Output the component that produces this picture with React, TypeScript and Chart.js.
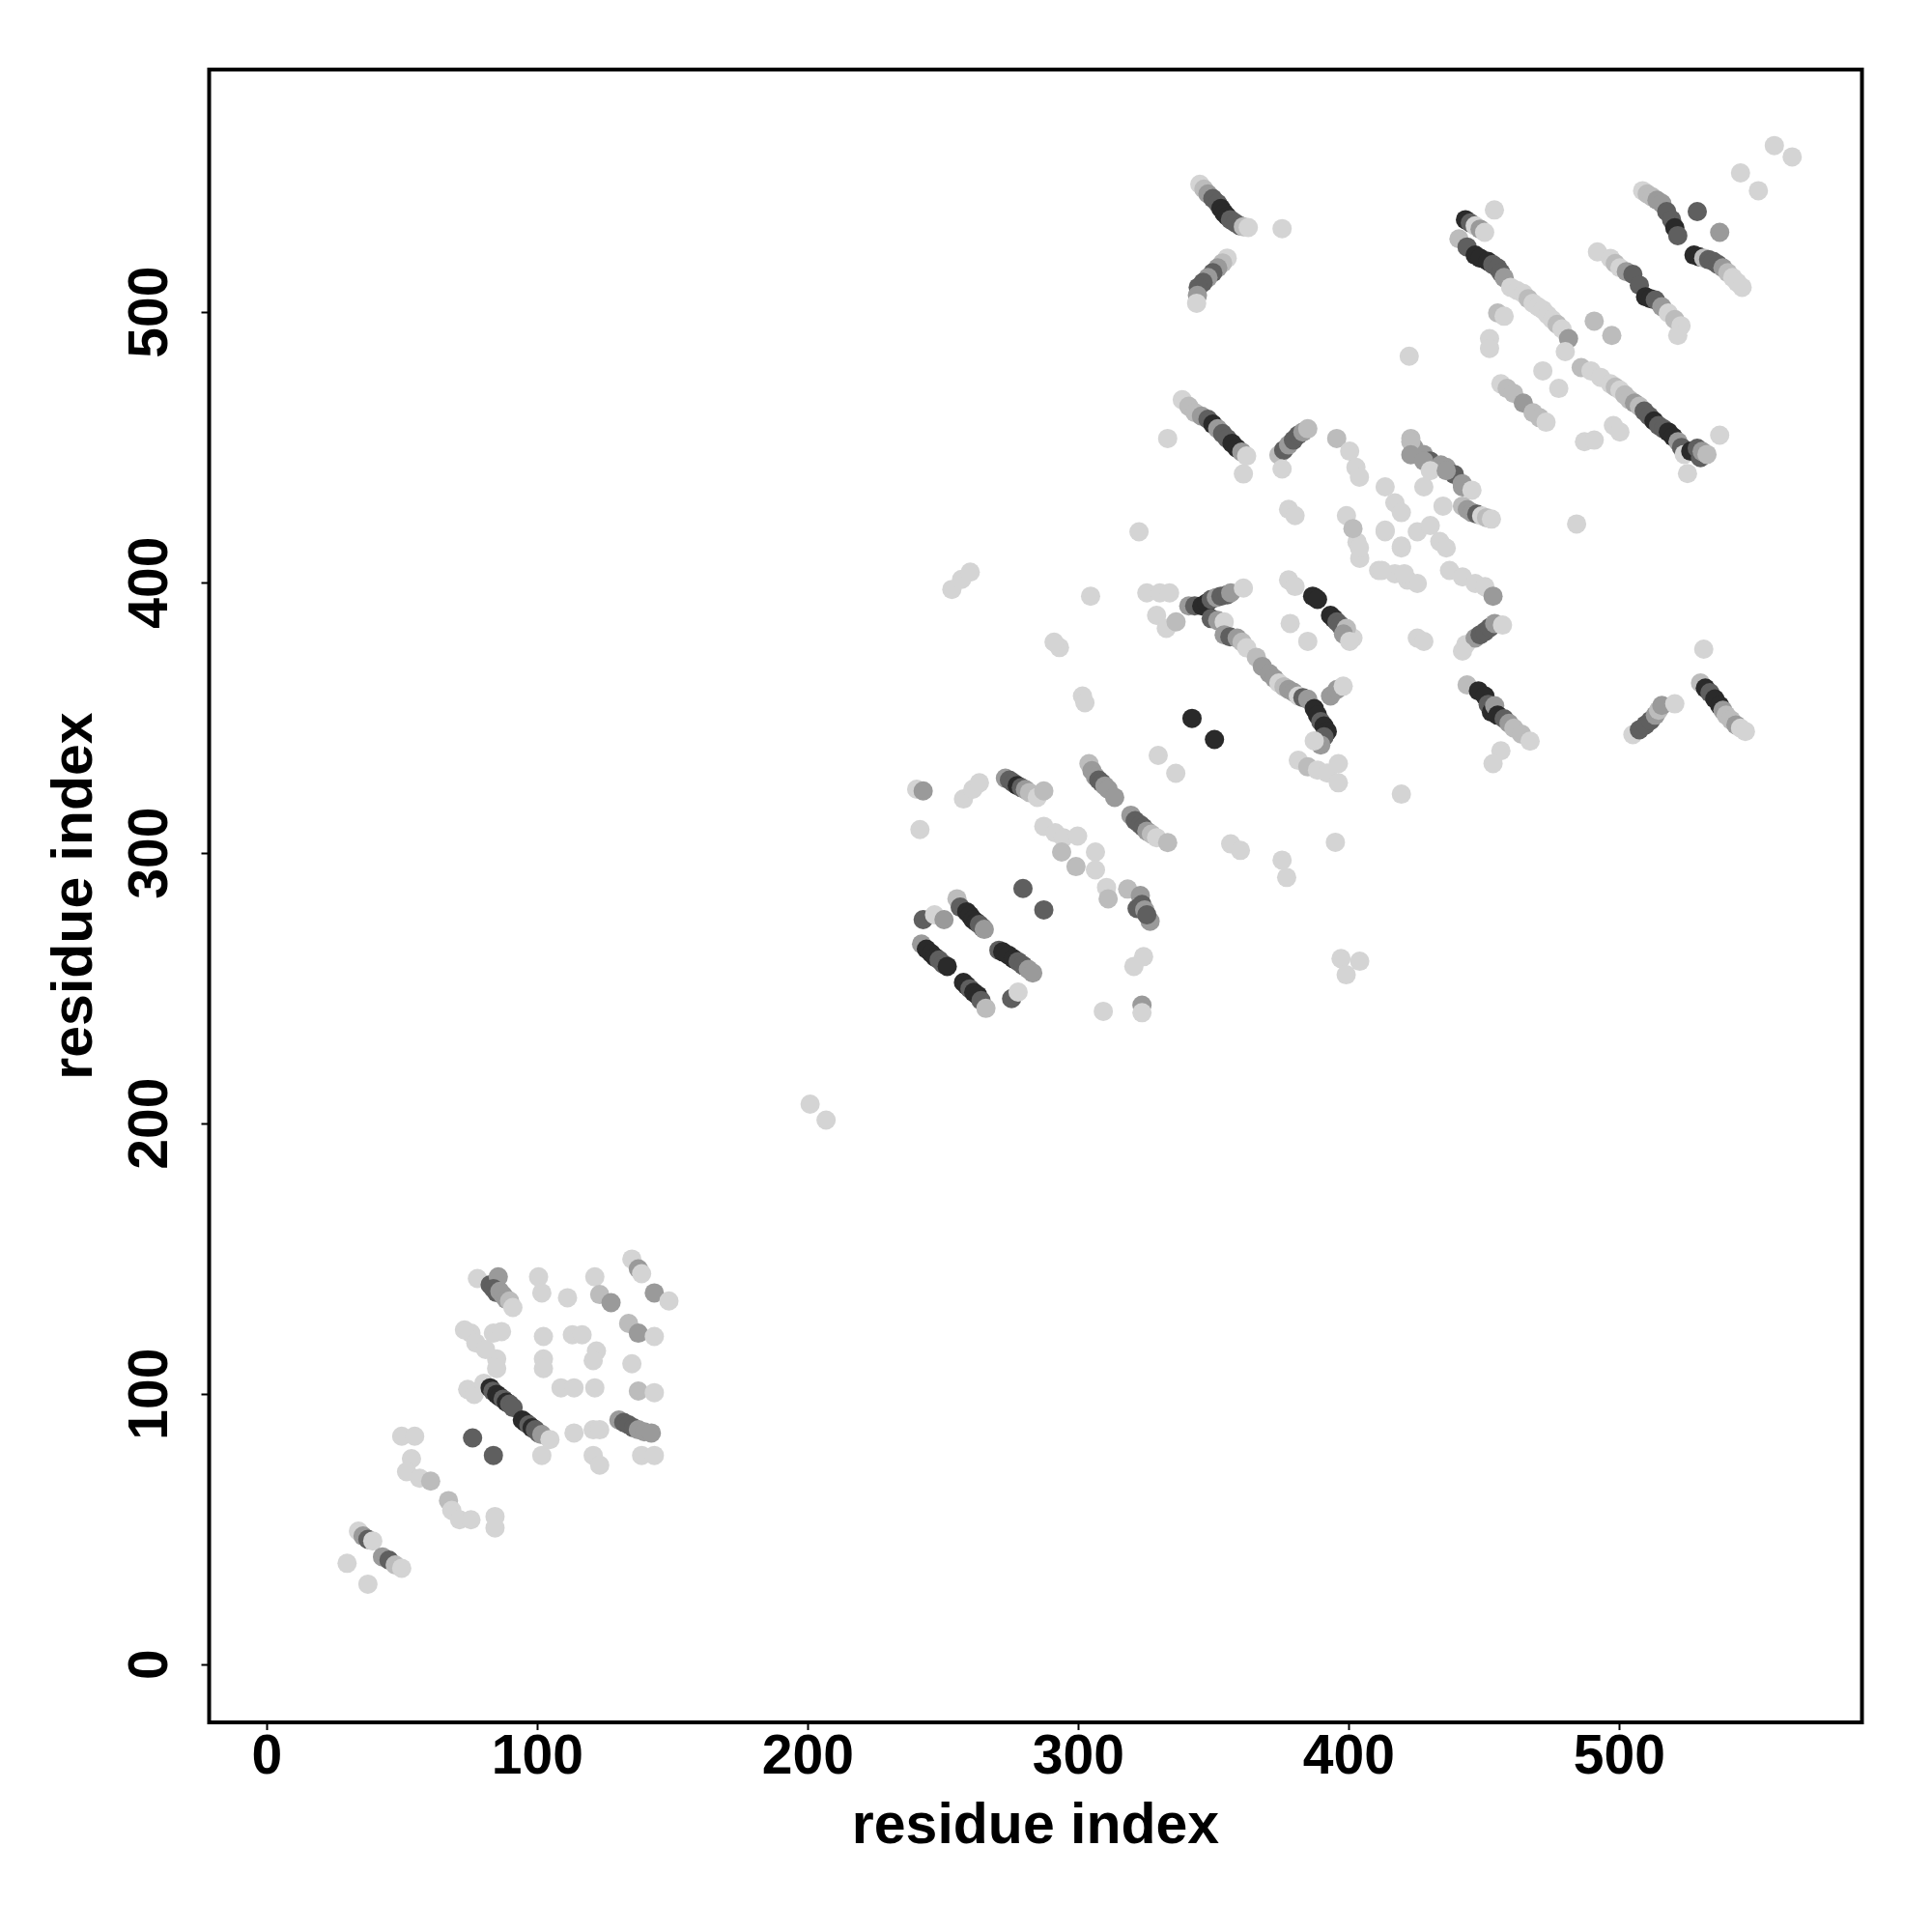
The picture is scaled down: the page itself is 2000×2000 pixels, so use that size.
import React, { useEffect, useRef } from "react";
import { Chart, registerables } from "chart.js";

Chart.register(...registerables);

const X_TICKS = [0, 100, 200, 300, 400, 500];
const Y_TICKS = [0, 100, 200, 300, 400, 500];
const AXIS_MIN = -21.4;
const AXIS_MAX = 589.7;
const X_TITLE = "residue index";
const Y_TITLE = "residue index";
// grey levels (contact strength): 0 = weakest/lightest ... 4 = strongest/darkest
const GRAYS = ["#d4d4d4", "#bcbcbc", "#9a9a9a", "#5f5f5f", "#2a2a2a"];

type P = [number, number, number];

const clusterLow: P[] = [
  [29.6, 37.4, 0], [37.3, 29.7, 0],
  [33.8, 49.3, 0], [35.5, 47.5, 2], [37.3, 46.3, 3], [39.1, 45.7, 0],
  [42.7, 39.8, 2], [45.1, 38.6, 3], [47.4, 36.8, 1], [49.8, 35.6, 0],
  [49.8, 84.4, 0], [54.6, 84.4, 0],
  [53.4, 76.1, 0], [51.6, 71.3, 0], [56.4, 68.9, 0], [60.5, 67.8, 1],
  [67.1, 60.6, 1], [68.3, 57.0, 0], [71.2, 53.5, 0], [75.4, 53.5, 0],
  [84.3, 54.7, 0], [84.3, 50.5, 0],
  [76.0, 83.8, 3], [83.7, 77.3, 3],
  [74.2, 101.7, 0], [76.6, 99.9, 0], [80.2, 104.0, 0],
  [82.5, 102.3, 4], [83.5, 101.0, 3], [84.9, 99.9, 4], [86.0, 99.0, 4], [87.3, 98.1, 3], [88.5, 97.0, 4], [89.7, 96.3, 3], [91.0, 95.0, 3],
  [94.4, 90.4, 4], [95.5, 89.5, 4], [96.8, 88.6, 3], [98.0, 87.5, 4], [99.2, 86.8, 3], [100.5, 85.5, 3], [101.6, 85.0, 2],
  [104.6, 83.2, 0], [101.6, 77.3, 0],
  [83.7, 122.5, 0], [86.7, 123.1, 0], [75.4, 122.5, 0], [73.0, 123.7, 0],
  [84.9, 113.0, 0], [84.9, 109.4, 0],
  [77.2, 118.9, 0], [80.8, 116.5, 0],
  [77.8, 142.7, 0], [82.5, 140.4, 3], [85.5, 143.3, 2], [83.7, 139.0, 3], [84.9, 137.5, 3], [86.1, 138.0, 2],
  [87.3, 136.5, 2], [88.5, 135.0, 2], [89.7, 134.4, 1], [90.9, 132.0, 0],
  [100.4, 143.3, 0], [101.6, 137.4, 0],
  [111.1, 135.6, 0],
  [102.2, 121.3, 0], [102.2, 113.0, 0], [102.2, 109.4, 0],
  [112.9, 121.9, 0], [116.5, 121.9, 0],
  [121.8, 115.9, 0], [120.6, 112.4, 0],
  [108.7, 102.3, 0], [113.5, 102.3, 0], [121.2, 102.3, 0],
  [134.9, 111.2, 0],
  [137.3, 101.1, 1], [143.2, 100.5, 0],
  [121.2, 143.3, 0], [123.0, 136.8, 1], [127.2, 133.8, 2],
  [133.7, 126.1, 1], [137.3, 122.5, 2], [143.2, 121.3, 0],
  [134.9, 149.9, 0], [137.3, 146.3, 2], [138.5, 144.5, 0],
  [143.2, 137.4, 2], [148.6, 134.4, 0],
  [130.1, 90.4, 2], [131.9, 89.5, 3], [133.7, 88.6, 3], [135.5, 87.5, 3], [137.3, 86.8, 2], [139.5, 86.0, 2], [142.1, 85.6, 2],
  [138.5, 77.3, 0], [143.2, 77.3, 0],
  [113.5, 85.6, 0], [120.6, 86.8, 0], [123.0, 86.8, 0],
  [120.6, 77.3, 0], [123.0, 73.7, 0],
];

const clusterMid: P[] = [
  [200.8, 207.2, 0], [206.7, 201.3, 0],
  [240.2, 323.6, 0], [242.6, 323.0, 2],
  [241.4, 308.7, 0],
  [257.5, 320.0, 0], [261.0, 323.6, 0], [263.4, 326.0, 0],
  [273.0, 327.7, 2], [274.5, 327.0, 3], [275.9, 326.0, 3], [277.4, 325.0, 4], [278.9, 324.2, 3], [280.4, 323.5, 2],
  [281.9, 322.4, 1], [284.8, 320.6, 0], [287.2, 323.0, 1],
  [287.2, 309.9, 0], [291.4, 307.5, 0], [294.4, 305.7, 0], [299.7, 306.3, 0],
  [293.8, 300.4, 1], [299.1, 295.0, 1], [306.3, 300.4, 0], [306.3, 293.8, 0], [310.4, 287.3, 0],
  [303.9, 333.1, 1], [305.0, 330.5, 2], [306.3, 328.3, 2], [307.5, 327.0, 3], [308.6, 326.0, 3], [309.8, 324.8, 2],
  [311.0, 323.6, 2], [313.4, 320.6, 2],
  [319.4, 314.0, 2], [321.0, 312.0, 3], [322.9, 310.5, 3], [324.0, 309.5, 3], [325.3, 308.1, 2], [327.0, 307.0, 1],
  [328.9, 305.7, 0], [333.0, 303.9, 1],
  [329.5, 336.1, 0], [336.0, 329.5, 0],
  [279.5, 286.9, 3], [287.2, 279.0, 3],
  [242.6, 275.4, 3], [246.8, 277.2, 0], [250.3, 275.4, 2],
  [255.1, 283.1, 1], [256.3, 280.0, 3], [258.7, 278.3, 4], [259.9, 277.0, 4], [261.0, 275.4, 4], [262.2, 274.5, 4],
  [263.4, 273.6, 3], [264.5, 272.5, 3], [265.2, 271.8, 2],
  [242.0, 266.4, 2], [243.8, 264.5, 4], [245.6, 262.9, 4], [247.0, 261.5, 4], [248.5, 260.5, 3], [250.0, 259.0, 3], [251.5, 258.1, 4],
  [257.5, 252.2, 4], [258.7, 251.0, 4], [259.9, 249.8, 3], [261.3, 248.5, 4], [262.8, 247.4, 4], [264.0, 245.5, 3], [265.8, 242.6, 1],
  [270.6, 264.1, 3], [272.0, 263.5, 4], [274.1, 262.3, 4], [275.9, 261.0, 4], [277.7, 259.9, 3], [279.5, 258.5, 3],
  [281.5, 257.0, 2], [283.1, 255.7, 2],
  [275.3, 246.2, 3], [277.7, 248.6, 0],
  [311.0, 283.1, 1], [318.2, 286.7, 1], [322.9, 284.3, 2], [326.5, 274.8, 2],
  [321.7, 279.5, 3], [323.5, 281.0, 3], [324.5, 279.0, 2], [325.3, 277.2, 3],
  [324.1, 261.7, 0], [320.5, 258.1, 0],
  [309.2, 241.5, 0],
  [323.5, 243.8, 2], [323.5, 241.0, 0],
];

const clusterCenter: P[] = [
  [253.2, 397.5, 0], [256.8, 401.2, 0], [260.0, 403.9, 0],
  [322.4, 418.8, 0], [304.5, 395.0, 0], [293.0, 376.0, 0], [291.0, 378.0, 0],
  [301.5, 358.1, 0], [302.4, 355.6, 0],
  [342.0, 349.8, 4], [350.3, 342.0, 4],
  [356.3, 303.4, 0], [359.9, 301.0, 0],
  [375.3, 297.4, 0], [377.0, 291.0, 0],
  [395.0, 304.0, 0],
  [419.4, 321.8, 0],
  [397.1, 261.0, 0], [399.0, 255.0, 0], [404.0, 260.0, 0],
  [377.7, 427.1, 0], [380.1, 424.8, 0],
  [399.1, 424.8, 0], [401.5, 420.0, 1], [403.9, 412.9, 0],
  [413.4, 419.4, 0], [419.4, 413.5, 0],
  [412.2, 404.5, 0], [420.5, 403.3, 0],
  [361.0, 440.2, 0], [375.3, 442.0, 0],
  [325.3, 396.2, 0], [330.1, 396.2, 0], [333.7, 396.2, 0],
  [328.9, 387.9, 0], [332.5, 383.1, 0], [336.1, 385.5, 1],
  [340.8, 391.4, 2], [343.0, 391.4, 3], [345.6, 391.4, 4], [347.5, 392.5, 4], [349.1, 393.8, 3], [351.0, 394.5, 2],
  [352.7, 395.0, 3], [355.0, 395.5, 3], [356.3, 396.2, 2], [361.0, 398.0, 0],
  [349.1, 386.7, 3], [351.5, 386.0, 2], [353.9, 385.5, 0], [353.9, 380.7, 2], [356.0, 380.0, 3], [358.7, 379.5, 2],
  [360.5, 378.0, 1], [362.2, 375.9, 0], [365.8, 372.4, 1],
  [368.0, 369.0, 2], [370.6, 366.4, 2], [372.5, 364.5, 2], [374.1, 362.9, 0], [376.0, 361.5, 1], [377.7, 360.5, 2],
  [379.5, 359.5, 2], [381.3, 358.1, 0], [383.0, 357.5, 3], [384.8, 356.9, 2],
  [387.2, 353.4, 4], [388.4, 351.0, 4], [389.6, 348.6, 3], [390.8, 347.0, 4], [392.0, 345.0, 4], [390.8, 343.0, 3], [389.6, 340.0, 2],
  [393.2, 358.1, 2], [395.6, 360.5, 2], [397.9, 361.7, 0],
  [381.3, 334.3, 0], [384.8, 331.9, 1], [388.4, 330.7, 0], [392.0, 329.6, 0], [396.1, 333.1, 0], [396.1, 326.0, 0],
  [387.2, 341.5, 0],
  [377.7, 401.0, 0], [380.1, 398.6, 0], [386.6, 395.0, 4], [387.5, 394.5, 4], [388.4, 393.8, 4],
  [393.2, 387.9, 4], [394.4, 386.7, 4], [395.6, 385.5, 3], [396.8, 384.3, 3], [399.1, 383.1, 1], [398.0, 381.0, 2], [400.3, 378.3, 0],
  [378.3, 384.9, 0], [384.8, 378.3, 0],
];

const clusterRightMid: P[] = [
  [403.9, 439.0, 0], [403.0, 415.0, 0], [404.0, 409.0, 0],
  [413.4, 435.4, 0], [417.0, 429.5, 0], [419.4, 425.9, 0],
  [413.4, 418.8, 0], [419.4, 412.8, 0],
  [425.3, 418.8, 0], [430.1, 421.1, 0], [433.6, 415.2, 0], [436.0, 412.8, 0],
  [422.9, 447.3, 2], [427.7, 445.0, 2], [430.1, 441.4, 0], [436.0, 441.4, 2],
  [427.7, 435.4, 0],
  [434.8, 428.3, 0], [442.0, 435.4, 2], [445.5, 434.2, 0],
  [442.0, 428.3, 1], [443.8, 427.0, 2], [445.5, 425.9, 2], [447.3, 425.3, 3], [449.1, 424.7, 0], [450.9, 424.0, 1], [452.7, 423.5, 0],
  [484.2, 421.7, 0],
  [411.0, 404.5, 0], [417.0, 403.3, 0], [421.7, 400.9, 0], [425.3, 399.7, 0],
  [437.2, 404.5, 0], [442.0, 402.1, 0], [446.7, 399.7, 0], [450.3, 398.5, 0], [453.3, 395.0, 2],
  [401.5, 379.5, 0],
  [425.3, 379.5, 0], [427.7, 378.3, 0],
  [443.2, 377.1, 0], [446.7, 379.5, 2], [448.5, 380.7, 3], [450.3, 381.9, 3], [452.1, 383.4, 3], [453.9, 384.9, 2], [456.8, 384.3, 0],
  [442.0, 374.7, 0],
  [443.7, 362.2, 1], [447.9, 360.0, 4], [450.3, 358.1, 4], [451.5, 355.0, 3], [452.7, 352.1, 4], [453.9, 354.5, 2],
  [455.0, 351.0, 4], [457.4, 349.7, 3], [459.2, 348.0, 2], [461.0, 346.2, 1], [463.8, 344.0, 1], [467.0, 341.4, 0],
  [456.2, 337.8, 0], [453.3, 333.1, 0],
  [531.2, 375.4, 0],
  [505.0, 343.8, 0], [507.4, 345.6, 3], [509.7, 347.4, 3], [511.5, 349.0, 3], [513.3, 351.0, 2], [514.5, 352.8, 1],
  [515.7, 354.6, 2], [520.5, 355.2, 0],
  [530.0, 362.9, 1], [531.8, 361.0, 4], [533.5, 359.3, 3], [535.3, 357.0, 4], [537.1, 354.6, 4], [538.3, 352.8, 2],
  [539.5, 351.0, 1], [541.3, 349.2, 1], [543.1, 347.4, 2], [544.8, 346.2, 0], [546.6, 345.0, 0],
];

const clusterUpperLeft: P[] = [
  [344.9, 547.3, 0], [346.4, 545.5, 1], [347.9, 543.7, 2], [349.7, 542.0, 3], [351.5, 540.2, 3], [352.7, 538.4, 4],
  [353.9, 536.6, 4], [355.0, 535.4, 4], [356.2, 534.2, 3], [358.0, 533.0, 3], [359.8, 531.9, 3], [361.0, 531.6, 1], [362.8, 531.3, 0],
  [375.3, 530.9, 0],
  [355.0, 520.0, 0], [353.3, 518.2, 1], [351.5, 516.4, 2], [349.7, 514.6, 3], [347.9, 512.8, 2], [346.1, 511.0, 3],
  [344.3, 509.2, 3], [344.0, 506.2, 2], [343.7, 503.3, 0],
  [422.3, 483.7, 0],
  [338.4, 467.6, 0], [340.8, 465.2, 1], [343.1, 462.8, 1], [345.5, 461.6, 2], [347.9, 460.4, 3], [349.7, 458.6, 4],
  [351.5, 456.9, 2], [353.3, 455.1, 3], [355.0, 453.3, 3], [356.8, 451.5, 4], [358.6, 449.7, 4], [360.4, 448.3, 2], [362.2, 446.8, 0],
  [333.0, 453.3, 0],
  [374.1, 447.2, 1], [375.9, 449.0, 3], [377.7, 450.9, 2], [379.5, 452.7, 3], [381.2, 454.5, 3], [383.0, 455.7, 2], [384.8, 456.9, 1],
  [395.5, 453.3, 1], [400.3, 448.6, 0], [402.6, 442.6, 0],
  [422.9, 452.1, 1],
];

const clusterUpperRight: P[] = [
  [563.9, 557.4, 0], [557.3, 561.6, 0], [544.8, 551.5, 0], [551.4, 544.9, 0],
  [508.6, 544.9, 0], [510.3, 543.7, 1], [512.1, 542.6, 1], [513.9, 541.4, 2], [515.7, 540.2, 2], [517.5, 537.2, 3],
  [519.3, 534.2, 3], [520.5, 531.2, 4], [521.6, 528.3, 3],
  [528.8, 537.2, 3], [537.1, 529.5, 2],
  [527.6, 521.1, 4], [529.4, 520.5, 4], [531.2, 520.0, 1], [533.0, 519.4, 3], [534.7, 518.8, 3], [536.5, 517.6, 3],
  [538.3, 516.4, 2], [540.1, 514.6, 1], [541.9, 512.8, 0], [543.6, 511.0, 0], [545.4, 509.2, 0],
  [491.9, 522.3, 0], [496.7, 519.9, 0], [498.5, 518.0, 1], [500.2, 516.4, 0], [502.6, 515.0, 2], [505.0, 514.0, 3],
  [507.4, 510.0, 3], [509.7, 505.7, 4], [511.5, 505.0, 4], [513.3, 504.5, 3], [515.7, 502.0, 2], [518.1, 499.7, 0],
  [520.5, 497.3, 1], [522.8, 495.0, 0], [521.6, 491.4, 0],
  [490.7, 496.7, 1], [497.2, 491.4, 1],
  [443.1, 534.2, 4], [444.9, 533.0, 3], [446.7, 531.9, 0], [448.5, 530.7, 2], [450.2, 529.5, 0], [453.8, 537.8, 0],
  [440.7, 527.1, 1], [443.7, 524.1, 3], [446.7, 521.1, 4], [448.5, 520.0, 4], [451.4, 518.8, 4], [453.2, 517.6, 3],
  [455.0, 516.4, 3], [456.2, 514.6, 3], [457.4, 512.8, 2],
  [459.8, 509.2, 0], [462.2, 508.0, 0], [464.5, 506.9, 0], [466.3, 505.0, 1], [468.1, 503.3, 0], [469.9, 502.0, 0],
  [471.7, 500.9, 0], [473.5, 499.0, 0], [475.2, 497.3, 0], [477.0, 495.5, 1], [478.8, 493.8, 0], [481.2, 490.2, 2], [480.0, 485.4, 0],
  [455.0, 499.7, 1], [457.4, 498.5, 0],
  [452.0, 490.2, 0], [452.0, 486.6, 0],
  [471.7, 478.3, 0], [477.6, 471.8, 0],
  [456.2, 473.5, 0], [458.5, 471.8, 1], [460.9, 470.0, 1], [464.5, 466.4, 2], [468.1, 462.8, 1], [470.5, 461.0, 1], [472.9, 459.3, 0],
  [485.9, 479.5, 1], [489.5, 478.3, 0], [493.1, 475.9, 0], [496.7, 473.5, 0], [498.5, 472.3, 1], [500.2, 471.2, 0],
  [502.0, 469.4, 1], [503.8, 467.6, 1], [505.6, 466.4, 2], [507.4, 465.2, 1], [509.2, 463.4, 3], [511.0, 461.6, 3],
  [512.8, 459.8, 4], [514.5, 458.1, 3], [516.3, 456.9, 3], [518.1, 455.7, 4], [519.9, 453.9, 4], [521.7, 452.1, 2],
  [523.0, 450.0, 3], [524.0, 447.4, 0],
  [525.2, 440.3, 0], [526.4, 448.6, 4], [530.0, 446.2, 3], [528.8, 449.7, 3], [530.6, 448.5, 2], [532.4, 447.4, 1], [537.1, 454.5, 0],
  [497.8, 458.1, 0], [500.2, 455.7, 0],
  [487.1, 452.1, 0], [490.7, 452.7, 0],
  [422.9, 453.3, 1], [424.0, 450.0, 2], [427.6, 447.4, 2], [430.0, 445.0, 3], [434.0, 443.5, 2], [436.0, 442.6, 2],
  [439.0, 440.0, 3], [441.9, 436.6, 2],
];

const CLUSTERS: P[][] = [clusterLow, clusterMid, clusterCenter, clusterRightMid, clusterUpperLeft, clusterUpperRight];

const FONT = "'Liberation Sans', Arial, Helvetica, sans-serif";

export default function App() {
  const ref = useRef<HTMLCanvasElement>(null);

  useEffect(() => {
    if (!ref.current) return;
    const datasets = CLUSTERS.map((c) => ({
      data: c.map(([x, y]) => ({ x, y })),
      backgroundColor: c.map((p) => GRAYS[p[2]]),
      pointBackgroundColor: c.map((p) => GRAYS[p[2]]),
      pointRadius: 10,
      pointHoverRadius: 10,
      pointBorderWidth: 0,
      borderWidth: 0,
    }));

    const boxPlugin = {
      id: "boxAndYLabels",
      afterDraw(chart: any) {
        const { ctx, chartArea } = chart;
        const { left, top, right, bottom } = chartArea;
        ctx.save();
        ctx.strokeStyle = "#000";
        ctx.lineWidth = 4;
        ctx.strokeRect(left, top, right - left, bottom - top);
        const ys = chart.scales.y;
        ctx.fillStyle = "#000";
        ctx.font = `bold 57px ${FONT}`;
        ctx.textAlign = "center";
        ctx.textBaseline = "alphabetic";
        for (const v of Y_TICKS) {
          const py = ys.getPixelForValue(v);
          ctx.save();
          ctx.translate(left - 43.5, py);
          ctx.rotate(-Math.PI / 2);
          ctx.fillText(String(v), 0, 0);
          ctx.restore();
        }
        ctx.restore();
      },
    };

    const chart = new Chart(ref.current, {
      type: "scatter",
      data: { datasets },
      options: {
        responsive: false,
        animation: false,
        events: [],
        layout: { padding: { top: 72, right: 72.5, left: 0, bottom: 0 } },
        plugins: { legend: { display: false }, tooltip: { enabled: false } },
        scales: {
          x: {
            type: "linear",
            min: AXIS_MIN,
            max: AXIS_MAX,
            afterBuildTicks: (s: any) => {
              s.ticks = X_TICKS.map((v) => ({ value: v }));
            },
            afterFit: (s: any) => {
              s.height = 217;
            },
            grid: { display: true, drawOnChartArea: false, drawTicks: true, tickLength: 8, tickColor: "#000", tickWidth: 2 },
            border: { display: false },
            ticks: {
              color: "#000",
              font: { family: FONT, weight: "bold", size: 57 },
              padding: -5,
              maxRotation: 0,
              minRotation: 0,
              autoSkip: false,
            },
            title: {
              display: true,
              text: X_TITLE,
              color: "#000",
              font: { family: FONT, weight: "bold", size: 59 },
              padding: { top: 0, bottom: 73 },
            },
          },
          y: {
            type: "linear",
            min: AXIS_MIN,
            max: AXIS_MAX,
            afterBuildTicks: (s: any) => {
              s.ticks = Y_TICKS.map((v) => ({ value: v }));
            },
            afterFit: (s: any) => {
              s.width = 216.5;
            },
            grid: { display: true, drawOnChartArea: false, drawTicks: true, tickLength: 8, tickColor: "#000", tickWidth: 2 },
            border: { display: false },
            ticks: { display: false },
            title: {
              display: true,
              text: Y_TITLE,
              color: "#000",
              font: { family: FONT, weight: "bold", size: 59 },
              padding: { top: 43, bottom: 0 },
            },
          },
        },
      },
      plugins: [boxPlugin],
    } as any);

    return () => chart.destroy();
  }, []);

  return (
    <canvas
      ref={ref}
      width={2000}
      height={2000}
      style={{ position: "absolute", left: 0, top: 0, width: 2000, height: 2000, display: "block", background: "#fff" }}
    />
  );
}
